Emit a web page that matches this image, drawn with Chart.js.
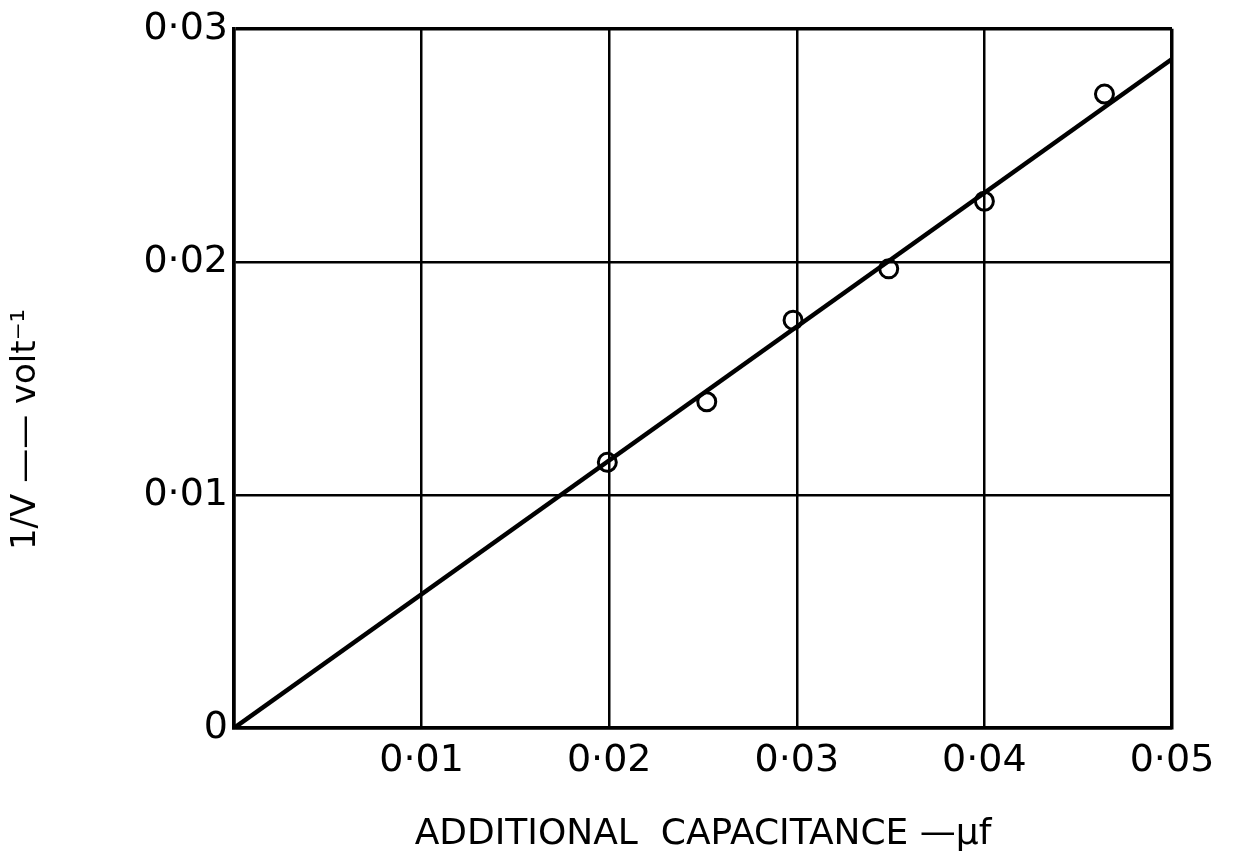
<!DOCTYPE html>
<html>
<head>
<meta charset="utf-8">
<script src="https://cdn.jsdelivr.net/npm/chart.js@4"></script>
<style>
  html, body { margin: 0; padding: 0; background: #fff; }
  #wrap { width: 1234px; height: 860px; }
</style>
</head>
<body>
<div id="wrap"><canvas id="myChart"></canvas></div>
<script>
// measured points: additional capacitance (uF) vs 1/V (volt^-1)
const capacitance = [0.0199, 0.0252, 0.0298, 0.0349, 0.0400, 0.0464];
const invVolt = [0.0114, 0.0140, 0.0175, 0.0197, 0.0226, 0.0272];

// straight line drawn through the points
const fitX = [0, 0.05];
const fitY = [0, 0.0287];

const xTicks = [0, 0.01, 0.02, 0.03, 0.04, 0.05];
const yTicks = [0, 0.01, 0.02, 0.03];

const FONT = "'DejaVu Sans', sans-serif";

function fmt(v) {
    return v.toFixed(2).replace('.', '\u00B7');
}

const ctx = document.getElementById('myChart').getContext('2d');

const chart = new Chart(ctx, {
    type: 'scatter',
    data: {
        datasets: [{
            label: 'fit',
            data: fitX.map((x, i) => ({ x: x, y: fitY[i] })),
            showLine: true,
            borderColor: '#000',
            borderWidth: 4.5,
            pointRadius: 0,
            order: 2
        }, {
            label: 'measured',
            data: capacitance.map((x, i) => ({ x: x, y: invVolt[i] })),
            showLine: false,
            pointRadius: 9,
            pointBorderWidth: 3,
            pointBorderColor: '#000',
            pointBackgroundColor: 'rgba(0,0,0,0)',
            order: 1
        }]
    },
    options: {
        responsive: true,
        maintainAspectRatio: false,
        animation: false,
        layout: { padding: { top: 28, right: 62, left: 0, bottom: 0 } },
        plugins: {
            legend: { display: false },
            tooltip: { enabled: false }
        },
        scales: {
            x: {
                type: 'linear',
                min: 0,
                max: 0.05,
                afterBuildTicks: axis => { axis.ticks = xTicks.map(v => ({ value: v })); },
                afterFit: axis => { axis.height = 132; },
                border: { color: '#000', width: 3.5 },
                grid: {
                    color: '#000',
                    lineWidth: c => (c.tick && (c.tick.value === 0 || c.tick.value === 0.05)) ? 3.5 : 2.5,
                    drawTicks: false
                },
                ticks: {
                    color: '#000',
                    padding: 10,
                    font: { family: FONT, size: 38 },
                    callback: v => v === 0 ? '' : fmt(v)
                },
                title: {
                    display: true,
                    text: 'ADDITIONAL  CAPACITANCE \u2014\u00B5f',
                    color: '#000',
                    font: { family: FONT, size: 36 },
                    padding: { top: 28 }
                }
            },
            y: {
                type: 'linear',
                min: 0,
                max: 0.03,
                afterBuildTicks: axis => { axis.ticks = yTicks.map(v => ({ value: v })); },
                afterFit: axis => { axis.width = 234; },
                border: { color: '#000', width: 3.5 },
                grid: {
                    color: '#000',
                    lineWidth: c => (c.tick && (c.tick.value === 0 || c.tick.value === 0.03)) ? 3.5 : 2.5,
                    drawTicks: false
                },
                ticks: {
                    color: '#000',
                    padding: 6,
                    font: { family: FONT, size: 38 },
                    callback: v => v === 0 ? '0' : fmt(v)
                },
                title: {
                    display: true,
                    text: '1/V \u2014\u2014 volt\u207B\u00B9\u2003\u2003\u2003',
                    color: '#000',
                    font: { family: FONT, size: 34 },
                    padding: { top: 6 }
                }
            }
        }
    }
});
</script>
</body>
</html>
